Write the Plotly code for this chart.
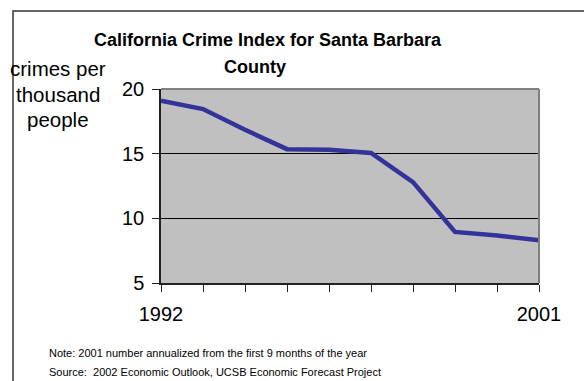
import plotly.graph_objects as go

years = [1992, 1993, 1994, 1995, 1996, 1997, 1998, 1999, 2000, 2001]
crime_rate = [19.1, 18.45, 16.85, 15.35, 15.3, 15.05, 12.8, 8.95, 8.68, 8.3]
y_ticks = [5, 10, 15, 20]
x_tick_labels = ["1992", "", "", "", "", "", "", "", "", "2001"]
title_lines = ["California Crime Index for Santa Barbara", "County"]
ytitle_lines = ["crimes per", "thousand", "people"]
notes = ["Note: 2001 number annualized from the first 9 months of the year",
         "Source:  2002 Economic Outlook, UCSB Economic Forecast Project"]

W, H = 584, 381
L, R, T, B = 161, 45, 89, 98
PW, PH = W - L - R, H - T - B

def px(x):
    return (x - L) / PW

def py(y):
    return (H - B - y) / PH

FONT = "Liberation Sans, Arial, sans-serif"

fig = go.Figure()
fig.add_trace(go.Scatter(x=years, y=crime_rate, mode="lines",
                         line=dict(color="#333399", width=4.5), hoverinfo="skip"))

fig.update_layout(
    width=W, height=H,
    margin=dict(l=L, r=R, t=T, b=B),
    paper_bgcolor="white", plot_bgcolor="#C0C0C0",
    showlegend=False,
    font=dict(family=FONT, color="black"),
    xaxis=dict(range=[years[0], years[-1]], tickvals=years, ticktext=x_tick_labels,
               ticks="outside", ticklen=7, tickcolor="#222", tickwidth=1,
               showline=True, linecolor="#222", linewidth=1.5,
               showgrid=False, zeroline=False, tickfont=dict(size=20),
               ticklabelstandoff=5),
    yaxis=dict(range=[5, 20], tickvals=y_ticks,
               ticks="outside", ticklen=7, tickcolor="#222", tickwidth=1,
               showline=True, linecolor="#222", linewidth=1.5,
               showgrid=True, gridcolor="black", gridwidth=1,
               zeroline=False, tickfont=dict(size=20), ticklabelstandoff=4),
)

# plot area top/right border (gray)
fig.add_shape(type="line", xref="paper", yref="paper", x0=0, x1=1, y0=1, y1=1,
              line=dict(color="#808080", width=2), layer="above")
fig.add_shape(type="line", xref="paper", yref="paper", x0=1, x1=1, y0=0, y1=1,
              line=dict(color="#808080", width=2), layer="above")
# outer chart border
fig.add_shape(type="rect", xref="paper", yref="paper",
              x0=px(13), x1=px(600), y0=py(11), y1=py(400),
              line=dict(color="#333", width=1.5), layer="above")

annots = []
for i, t in enumerate(title_lines):
    annots.append(dict(text="<b>%s</b>" % t, x=px([268, 255][i]), y=py([40, 67][i]),
                       xref="paper", yref="paper", showarrow=False,
                       xanchor="center", yanchor="middle",
                       font=dict(size=18, family=FONT)))
for i, t in enumerate(ytitle_lines):
    annots.append(dict(text=t, x=px(58), y=py(69 + 25 * i), xref="paper", yref="paper",
                       showarrow=False, xanchor="center", yanchor="middle",
                       font=dict(size=20.5, family=FONT)))
for i, t in enumerate(notes):
    annots.append(dict(text=t, x=px(47), y=py(353 + 19 * i), xref="paper", yref="paper",
                       showarrow=False, xanchor="left", yanchor="middle",
                       font=dict(size=11, family=FONT)))
fig.update_layout(annotations=annots)

fig.write_html("out.html")
